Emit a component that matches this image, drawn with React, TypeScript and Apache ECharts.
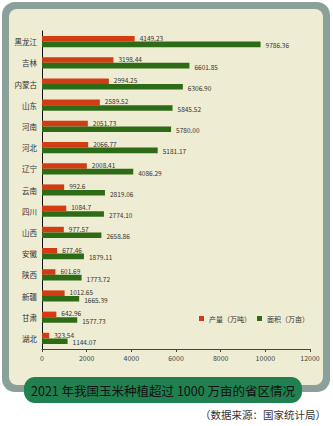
import React, { useEffect, useRef } from "react";
import * as echarts from "echarts";

const provinces = ["黑龙江", "吉林", "内蒙古", "山东", "河南", "河北", "辽宁", "云南", "四川", "山西", "安徽", "陕西", "新疆", "甘肃", "湖北"];
const outputLabels = ["4149.23", "3198.44", "2994.25", "2589.52", "2051.73", "2066.77", "2008.41", "992.6", "1084.7", "977.57", "677.46", "601.69", "1012.65", "642.96", "323.54"];
const areaLabels = ["9786.36", "6601.85", "6306.90", "5845.52", "5780.00", "5181.17", "4086.29", "2819.06", "2774.10", "2658.86", "1879.11", "1773.72", "1665.39", "1577.73", "1144.07"];
const outputValues = outputLabels.map(Number);
const areaValues = areaLabels.map(Number);
const seriesNames = ["产量（万吨）", "面积（万亩）"];
const titleText = "2021 年我国玉米种植超过 1000 万亩的省区情况";
const sourceText = "（数据来源：国家统计局）";

const FONT = "'Noto Sans CJK SC', 'Noto Sans', sans-serif";

export default function App() {
  const ref = useRef<HTMLDivElement>(null);
  useEffect(() => {
    const chart = echarts.init(ref.current!, null, { renderer: "svg" });
    chart.setOption({
      animation: false,
      textStyle: { fontFamily: FONT },
      graphic: [
        { type: "rect", z: -10, shape: { x: 2, y: 2, width: 328, height: 390, r: 13 }, style: { fill: "#8aa099" }, silent: true },
        { type: "rect", z: -9, shape: { x: 9, y: 9, width: 314, height: 376, r: 8 }, style: { fill: "#eeecd2" }, silent: true },
        { type: "rect", z: 10, shape: { x: 24, y: 377, width: 278, height: 26, r: 11 }, style: { fill: "#20804f" }, silent: true },
        { type: "text", z: 11, x: 163, y: 390, style: { text: titleText, fill: "#111", font: `12.5px ${FONT}`, align: "center", verticalAlign: "middle" }, silent: true },
        { type: "text", z: 11, x: 326, y: 414, style: { text: sourceText, fill: "#333", font: `10.5px ${FONT}`, align: "right", verticalAlign: "middle" }, silent: true },
      ],
      grid: { left: 42, right: 23, top: 31, bottom: 77 },
      legend: {
        left: 194,
        top: 310,
        itemWidth: 5,
        itemHeight: 5,
        itemGap: 6,
        icon: "rect",
        textStyle: { fontSize: 7, color: "#333", fontFamily: FONT },
        data: seriesNames,
      },
      xAxis: {
        type: "value",
        min: 0,
        max: 12000,
        interval: 2000,
        axisLine: { show: true, lineStyle: { color: "#444", width: 1 } },
        axisTick: { show: true, length: 3, lineStyle: { color: "#444" } },
        splitLine: { show: false },
        axisLabel: { fontSize: 7, color: "#444", margin: 5, formatter: (v: number) => String(v) },
      },
      yAxis: {
        type: "category",
        inverse: true,
        data: provinces,
        axisLine: { show: true, lineStyle: { color: "#111", width: 1 } },
        axisTick: { show: false },
        axisLabel: { fontSize: 7.5, color: "#333", margin: 5 },
      },
      series: [
        {
          name: seriesNames[0],
          type: "bar",
          data: outputValues,
          barWidth: 5.6,
          barGap: "0%",
          itemStyle: { color: "#d23c12" },
          label: {
            show: true,
            position: "right",
            distance: 5,
            offset: [0, -1],
            fontSize: 6.5,
            color: "#333",
            formatter: (p: any) => outputLabels[p.dataIndex],
          },
        },
        {
          name: seriesNames[1],
          type: "bar",
          data: areaValues,
          barWidth: 5.6,
          barGap: "0%",
          itemStyle: { color: "#2e6b17" },
          label: {
            show: true,
            position: "right",
            distance: 5,
            offset: [0, 1],
            fontSize: 6.5,
            color: "#333",
            formatter: (p: any) => areaLabels[p.dataIndex],
          },
        },
      ],
    });
    return () => chart.dispose();
  }, []);
  return <div ref={ref} style={{ position: "fixed", left: 0, top: 0, width: 333, height: 426, background: "#ffffff" }} />;
}
